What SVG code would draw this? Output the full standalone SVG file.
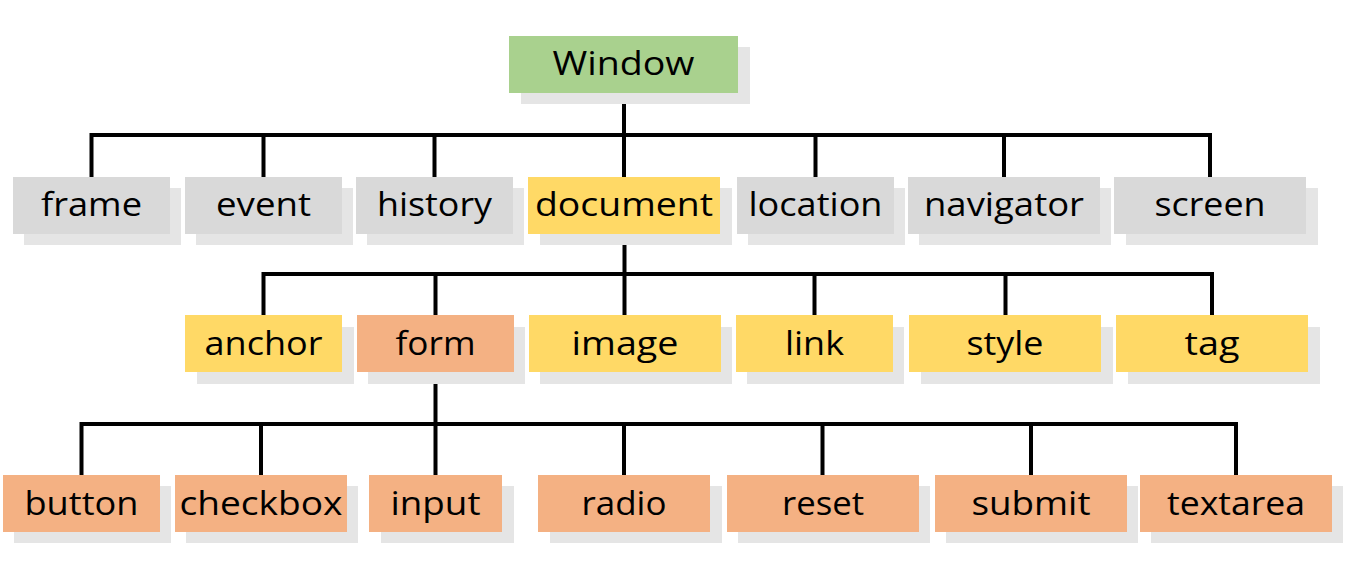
<svg xmlns="http://www.w3.org/2000/svg" width="1345" height="584" viewBox="0 0 1345 584">
<style>
.sh{fill:#e5e5e5}
.g{fill:#a9d18e}
.gr{fill:#d9d9d9}
.y{fill:#ffd966}
.o{fill:#f4b183}
text{font-family:"Open Sans","DejaVu Sans",sans-serif;font-size:33px;fill:#000;text-anchor:middle}
.c{fill:none;stroke:#000;stroke-width:4;stroke-linejoin:miter;stroke-linecap:butt}
</style>
<rect width="1345" height="584" fill="#fff"/>
<g id="connectors">
<path class="c" d="M624 93V177M91.5 177V135H1210V177M263.5 135V177M434.5 135V177M815.5 135V177M1004 135V177"/>
<path class="c" d="M624.5 234V315M263.5 315V274H1212V315M435.5 274V315M814.5 274V315M1005.5 274V315"/>
<path class="c" d="M435.5 372V475M81.5 475V424H1236V475M261 424V475M624 424V475M822.5 424V475M1031 424V475"/>
</g>
<g id="n-window"><rect class="sh" x="521" y="47" width="229" height="57"/><rect class="g" x="509" y="36" width="229" height="57"/><text x="623.5" y="75" textLength="142" lengthAdjust="spacingAndGlyphs">Window</text></g>
<g id="n-frame"><rect class="sh" x="24" y="188" width="157" height="57"/><rect class="gr" x="13" y="177" width="157" height="57"/><text x="91.5" y="216" textLength="101" lengthAdjust="spacingAndGlyphs">frame</text></g>
<g id="n-event"><rect class="sh" x="196" y="188" width="157" height="57"/><rect class="gr" x="185" y="177" width="157" height="57"/><text x="263.5" y="216" textLength="95" lengthAdjust="spacingAndGlyphs">event</text></g>
<g id="n-history"><rect class="sh" x="367" y="188" width="157" height="57"/><rect class="gr" x="356" y="177" width="157" height="57"/><text x="434.5" y="216" textLength="115" lengthAdjust="spacingAndGlyphs">history</text></g>
<g id="n-document"><rect class="sh" x="540" y="188" width="192" height="57"/><rect class="y" x="528" y="177" width="192" height="57"/><text x="624" y="216" textLength="178" lengthAdjust="spacingAndGlyphs">document</text></g>
<g id="n-location"><rect class="sh" x="748" y="188" width="157" height="57"/><rect class="gr" x="737" y="177" width="157" height="57"/><text x="815.5" y="216" textLength="134" lengthAdjust="spacingAndGlyphs">location</text></g>
<g id="n-navigator"><rect class="sh" x="919" y="188" width="192" height="57"/><rect class="gr" x="908" y="177" width="192" height="57"/><text x="1004" y="216" textLength="160" lengthAdjust="spacingAndGlyphs">navigator</text></g>
<g id="n-screen"><rect class="sh" x="1126" y="188" width="192" height="57"/><rect class="gr" x="1114" y="177" width="192" height="57"/><text x="1210" y="216" textLength="111" lengthAdjust="spacingAndGlyphs">screen</text></g>
<g id="n-anchor"><rect class="sh" x="197" y="327" width="157" height="57"/><rect class="y" x="185" y="315" width="157" height="57"/><text x="263.5" y="355" textLength="118" lengthAdjust="spacingAndGlyphs">anchor</text></g>
<g id="n-form"><rect class="sh" x="368" y="327" width="157" height="57"/><rect class="o" x="357" y="315" width="157" height="57"/><text x="435.5" y="355" textLength="80" lengthAdjust="spacingAndGlyphs">form</text></g>
<g id="n-image"><rect class="sh" x="540" y="327" width="192" height="57"/><rect class="y" x="529" y="315" width="192" height="57"/><text x="625" y="355" textLength="107" lengthAdjust="spacingAndGlyphs">image</text></g>
<g id="n-link"><rect class="sh" x="747" y="327" width="157" height="57"/><rect class="y" x="736" y="315" width="157" height="57"/><text x="814.5" y="355" textLength="59" lengthAdjust="spacingAndGlyphs">link</text></g>
<g id="n-style"><rect class="sh" x="921" y="327" width="192" height="57"/><rect class="y" x="909" y="315" width="192" height="57"/><text x="1005" y="355" textLength="77" lengthAdjust="spacingAndGlyphs">style</text></g>
<g id="n-tag"><rect class="sh" x="1128" y="327" width="192" height="57"/><rect class="y" x="1116" y="315" width="192" height="57"/><text x="1212" y="355" textLength="55" lengthAdjust="spacingAndGlyphs">tag</text></g>
<g id="n-button"><rect class="sh" x="14" y="486" width="157" height="57"/><rect class="o" x="3" y="475" width="157" height="57"/><text x="81.5" y="515" textLength="114" lengthAdjust="spacingAndGlyphs">button</text></g>
<g id="n-checkbox"><rect class="sh" x="186" y="486" width="172" height="57"/><rect class="o" x="175" y="475" width="172" height="57"/><text x="261" y="515" textLength="163" lengthAdjust="spacingAndGlyphs">checkbox</text></g>
<g id="n-input"><rect class="sh" x="381" y="486" width="133" height="57"/><rect class="o" x="369" y="475" width="133" height="57"/><text x="435.5" y="515" textLength="90" lengthAdjust="spacingAndGlyphs">input</text></g>
<g id="n-radio"><rect class="sh" x="550" y="486" width="172" height="57"/><rect class="o" x="538" y="475" width="172" height="57"/><text x="624" y="515" textLength="85" lengthAdjust="spacingAndGlyphs">radio</text></g>
<g id="n-reset"><rect class="sh" x="738" y="486" width="192" height="57"/><rect class="o" x="727" y="475" width="192" height="57"/><text x="823" y="515" textLength="82" lengthAdjust="spacingAndGlyphs">reset</text></g>
<g id="n-submit"><rect class="sh" x="946" y="486" width="192" height="57"/><rect class="o" x="935" y="475" width="192" height="57"/><text x="1031" y="515" textLength="119" lengthAdjust="spacingAndGlyphs">submit</text></g>
<g id="n-textarea"><rect class="sh" x="1151" y="486" width="192" height="57"/><rect class="o" x="1140" y="475" width="192" height="57"/><text x="1236" y="515" textLength="138" lengthAdjust="spacingAndGlyphs">textarea</text></g>
</svg>
